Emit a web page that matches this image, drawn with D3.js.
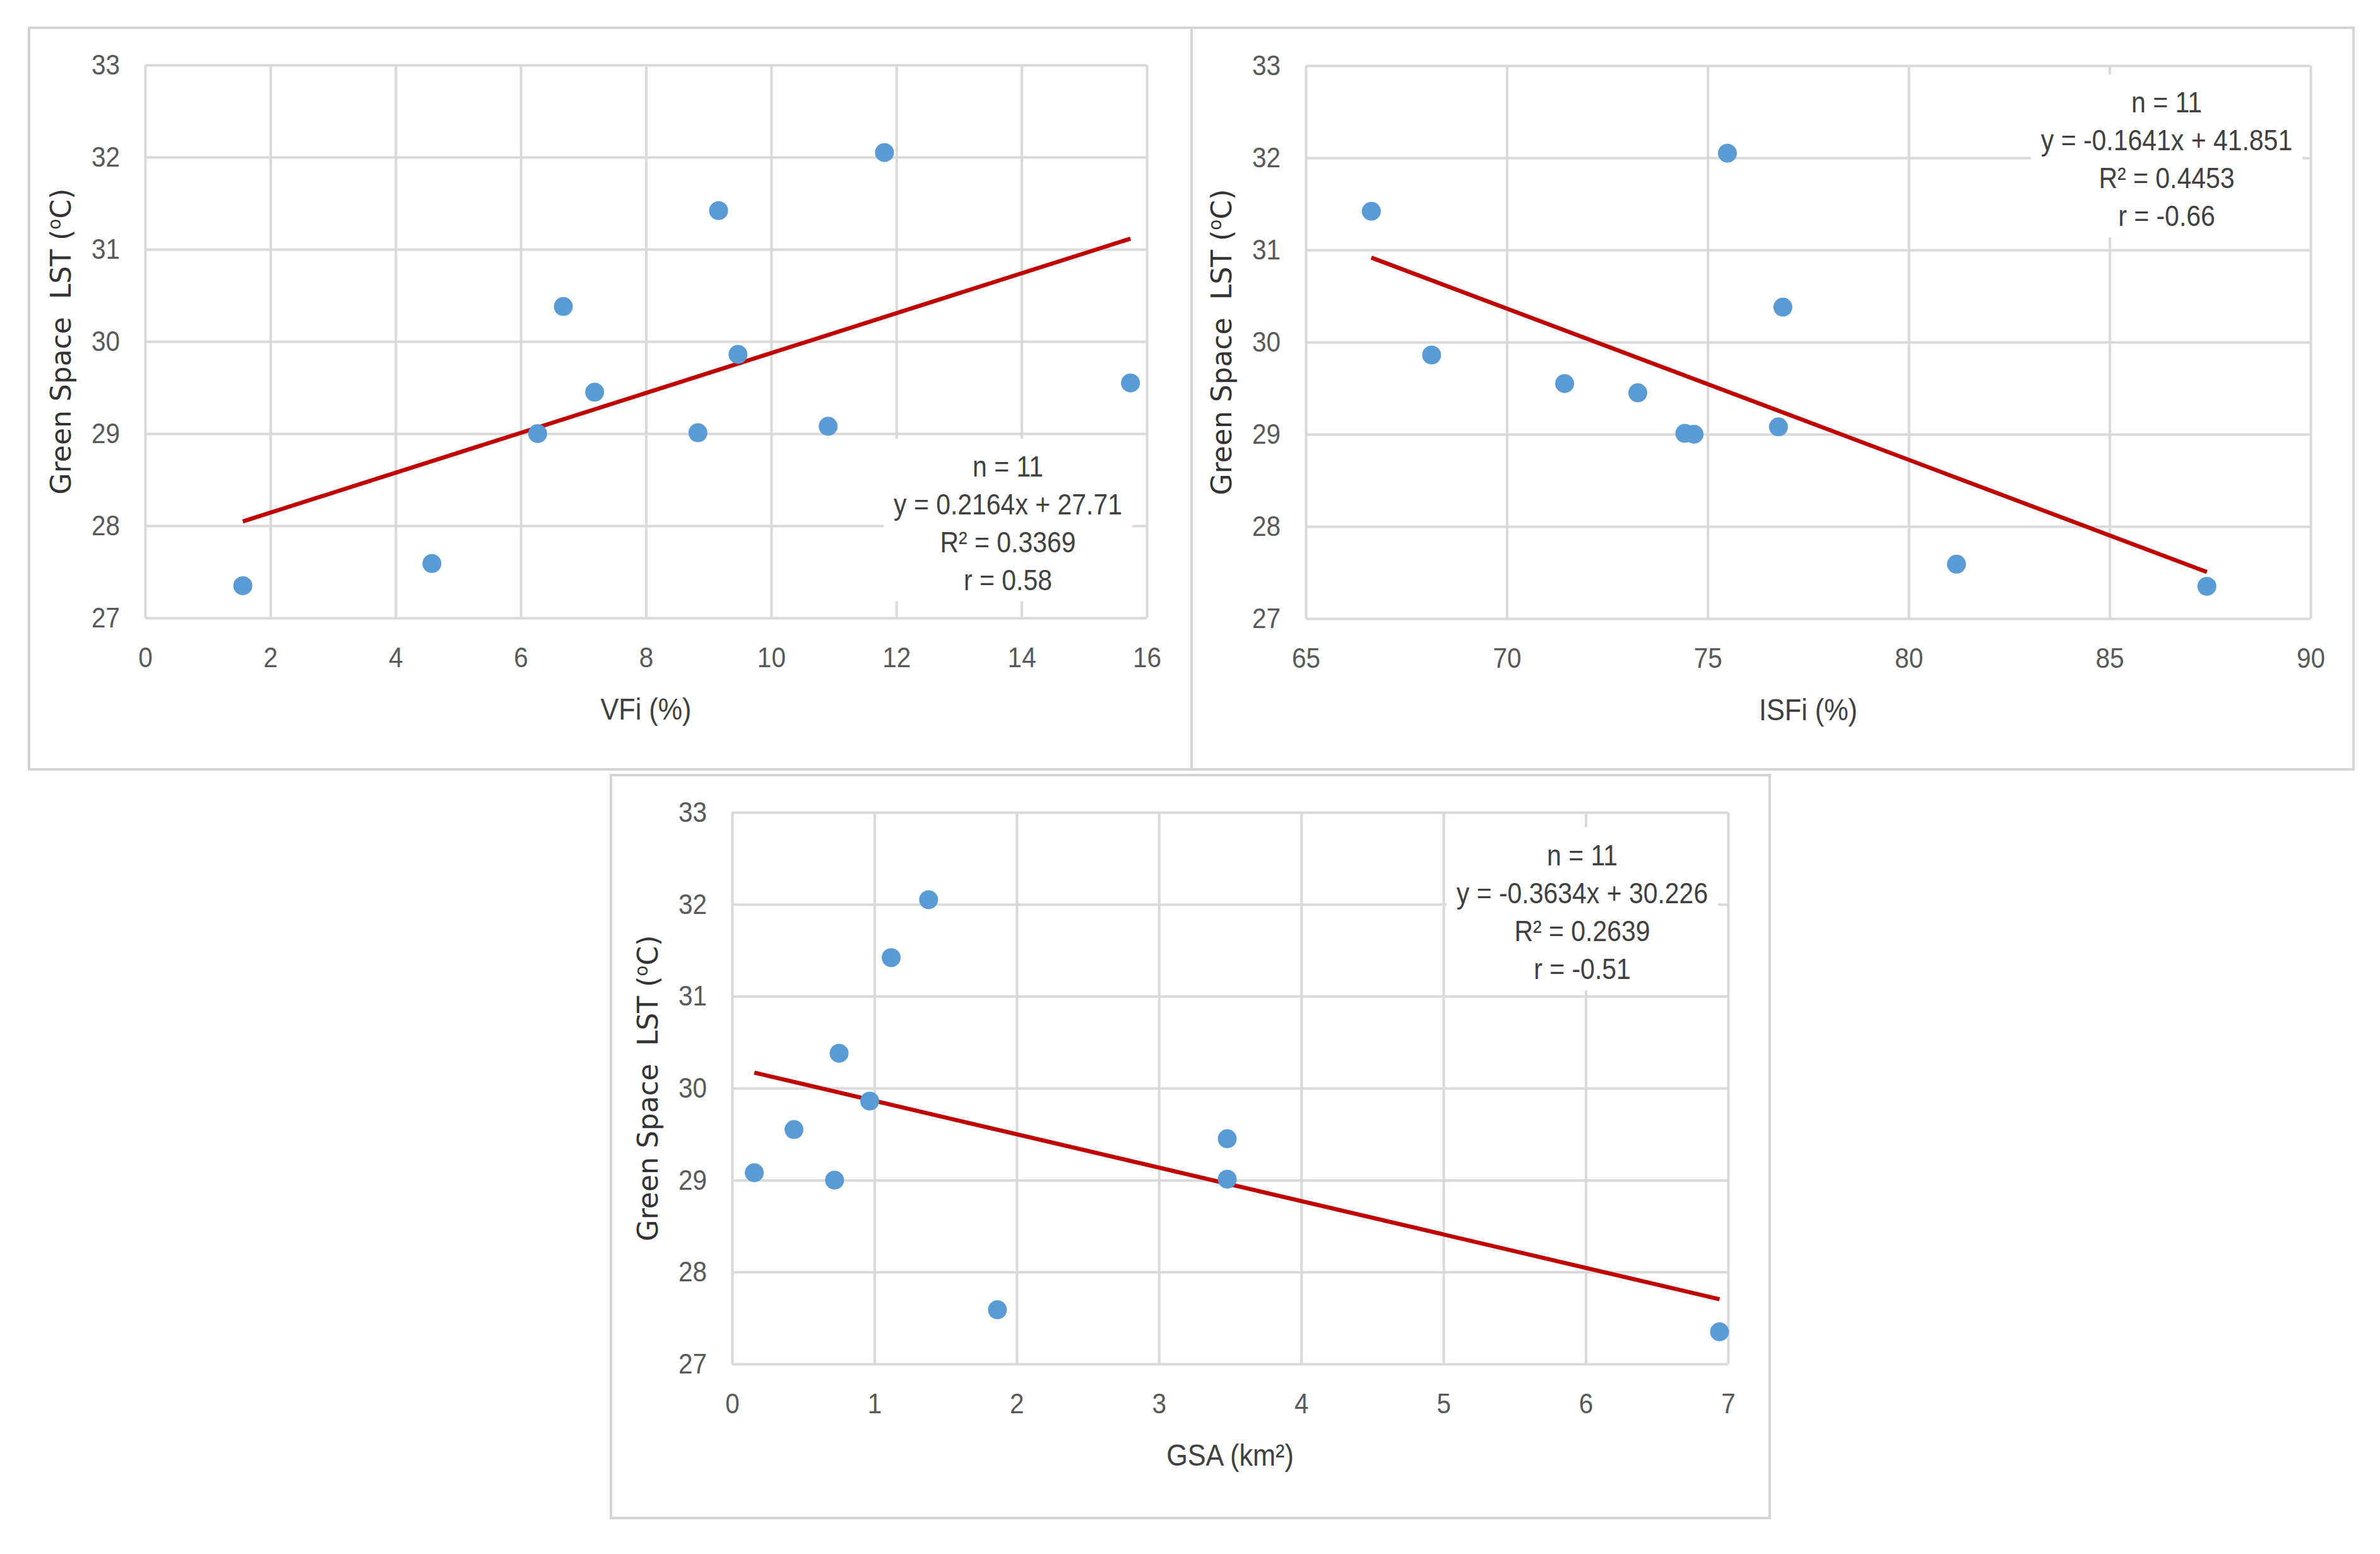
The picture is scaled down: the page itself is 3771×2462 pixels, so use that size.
<!DOCTYPE html>
<html>
<head>
<meta charset="utf-8">
<script src="https://cdn.jsdelivr.net/npm/d3@7"></script>
<style>
  html, body { margin: 0; padding: 0; background: #fff; }
  svg { display: block; }
</style>
</head>
<body>
<svg id="chart" width="3771" height="2462"></svg>
<script>
// LST of the 11 green spaces, predictors listed in the same site order
const lst = [27.35, 27.59, 29.00, 29.01, 29.08, 29.45, 29.55, 29.86, 30.38, 31.42, 32.05];
const vfi = [1.56, 4.58, 6.27, 8.83, 10.91, 7.18, 15.74, 9.47, 6.68, 9.16, 11.81];
const isfi = [87.42, 81.19, 74.66, 74.43, 76.76, 73.26, 71.44, 68.13, 76.87, 66.63, 75.49];
const gsa = [6.94, 1.865, 0.72, 3.48, 0.156, 3.48, 0.435, 0.967, 0.752, 1.118, 1.381];

const lstTicks = [27, 28, 29, 30, 31, 32, 33];
const vfiTicks = [0, 2, 4, 6, 8, 10, 12, 14, 16];
const isfiTicks = [65, 70, 75, 80, 85, 90];
const gsaTicks = [0, 1, 2, 3, 4, 5, 6, 7];

// fitted lines as printed on the chart
const slopes = [0.2164, -0.1641, -0.3634];
const intercepts = [27.71, 41.851, 30.226];
const fitNotes = [
  ["n = 11", "y = 0.2164x + 27.71", "R² = 0.3369", "r = 0.58"],
  ["n = 11", "y = -0.1641x + 41.851", "R² = 0.4453", "r = -0.66"],
  ["n = 11", "y = -0.3634x + 30.226", "R² = 0.2639", "r = -0.51"],
];
const xTitles = ["VFi (%)", "ISFi (%)", "GSA (km²)"];

const gridColor = "#d9d9d9";
const dotColor = "#5b9bd5";
const lineColor = "#c00000";
const sans = "'Liberation Sans', Arial, sans-serif";

const panels = [
  { xs: vfi, ticks: vfiTicks, frame: [46, 44, 1888, 1219], plot: [230, 103, 1817, 979], note: [1597, 755] },
  { xs: isfi, ticks: isfiTicks, frame: [1888, 44, 3729, 1219], plot: [2069, 104, 3661, 980], note: [3433, 178] },
  { xs: gsa, ticks: gsaTicks, frame: [968, 1228, 2804, 2405], plot: [1160, 1287, 2738, 2161], note: [2507, 1371] },
];

// squeeze text horizontally to get the narrow Calibri look
const condense = (sel, k) => {
  sel.each(function () {
    const len = this.getComputedTextLength();
    d3.select(this).attr("textLength", len * k).attr("lengthAdjust", "spacingAndGlyphs");
  });
};

const svg = d3.select("#chart");
svg.append("rect").attr("width", 3771).attr("height", 2462).attr("fill", "#fff");

panels.forEach((p, i) => {
  const [l, t, r, b] = p.plot;
  const x = d3.scaleLinear().domain(d3.extent(p.ticks)).range([l, r]);
  const y = d3.scaleLinear().domain(d3.extent(lstTicks)).range([b, t]);
  const g = svg.append("g");

  const [fx0, fy0, fx1, fy1] = p.frame;
  g.append("rect")
    .attr("x", fx0).attr("y", fy0)
    .attr("width", fx1 - fx0).attr("height", fy1 - fy0)
    .attr("fill", "none")
    .attr("stroke", "#d4d4d4")
    .attr("stroke-width", 4);

  // x grid + tick labels
  g.append("g")
    .attr("transform", `translate(0,${b})`)
    .call(d3.axisBottom(x).tickValues(p.ticks).tickSize(-(b - t)).tickPadding(46).tickFormat(d3.format("d")))
    .call((s) => s.select(".domain").remove())
    .call((s) => s.selectAll("line").attr("stroke", gridColor).attr("stroke-width", 4))
    .call((s) => s.selectAll("text").attr("fill", "#595959").style("font", `45px ${sans}`).call(condense, 0.9));

  // y grid + tick labels
  g.append("g")
    .attr("transform", `translate(${l},0)`)
    .call(d3.axisLeft(y).tickValues(lstTicks).tickSize(-(r - l)).tickPadding(40).tickFormat(d3.format("d")))
    .call((s) => s.select(".domain").remove())
    .call((s) => s.selectAll("line").attr("stroke", gridColor).attr("stroke-width", 4))
    .call((s) => s.selectAll("text").attr("fill", "#595959").style("font", `45px ${sans}`).call(condense, 0.9));

  // axis titles
  g.append("text")
    .attr("x", (l + r) / 2)
    .attr("y", b + 161)
    .attr("text-anchor", "middle")
    .attr("fill", "#404040")
    .style("font", `48px ${sans}`)
    .text(xTitles[i])
    .call(condense, 0.9);

  const yt = g.append("text")
    .attr("transform", `translate(${l - 118},${(t + b) / 2}) rotate(-90)`)
    .attr("text-anchor", "middle")
    .attr("fill", "#333")
    .style("font", "44px 'DejaVu Sans', Verdana, sans-serif")
    .style("white-space", "pre");
  yt.append("tspan").text("Green Space  LST (");
  yt.append("tspan").attr("dy", -16).style("font-size", "28px").text("o");
  yt.append("tspan").attr("dy", 16).text("C)");

  // regression note with white background
  const [cx, by] = p.note;
  const noteG = g.append("g");
  const box = noteG.append("rect").attr("fill", "#fff");
  const lines = noteG.selectAll("text")
    .data(fitNotes[i])
    .join("text")
    .attr("x", cx)
    .attr("y", (d, k) => by + k * 60)
    .attr("text-anchor", "middle")
    .attr("fill", "#404040")
    .style("font", `46px ${sans}`)
    .text((d) => d)
    .call(condense, 0.89);
  const w = d3.max(lines.nodes(), (n) => +n.getAttribute("textLength"));
  box.attr("x", cx - w / 2 - 16).attr("width", w + 32)
    .attr("y", by - 60).attr("height", 3 * 60 + 78);

  // trend line over the data range
  const [x0, x1] = d3.extent(p.xs);
  const fit = [x0, x1].map((v) => [v, slopes[i] * v + intercepts[i]]);
  g.append("path")
    .datum(fit)
    .attr("fill", "none")
    .attr("stroke", lineColor)
    .attr("stroke-width", 6.5)
    .attr("d", d3.line().x((d) => x(d[0])).y((d) => y(d[1])));

  // points
  g.selectAll("circle")
    .data(p.xs.map((v, k) => [v, lst[k]]))
    .join("circle")
    .attr("cx", (d) => x(d[0]))
    .attr("cy", (d) => y(d[1]))
    .attr("r", 15)
    .attr("fill", dotColor);
});
</script>
</body>
</html>
